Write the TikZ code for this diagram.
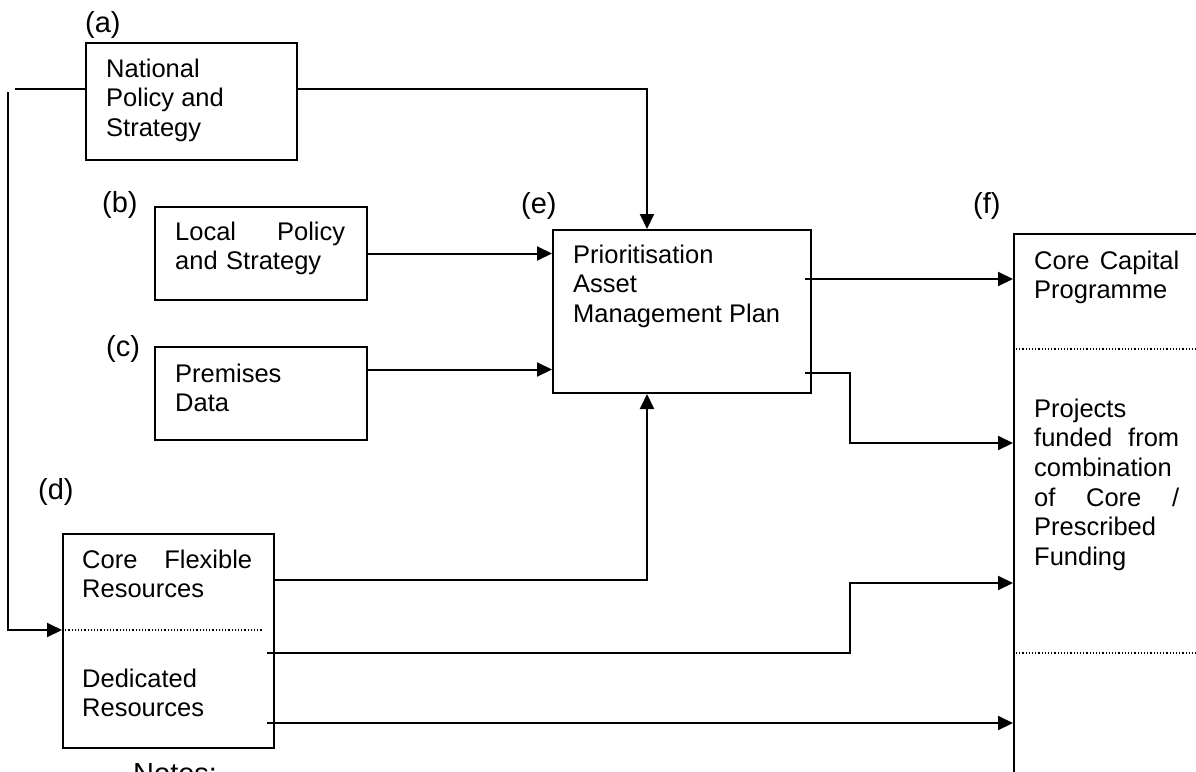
\documentclass[tikz,border=0pt]{standalone}
\usepackage{fontspec}
\setmainfont{Liberation Sans}
\usetikzlibrary{arrows.meta,calc}
\newcommand\myfs{\fontsize{25.5}{29.7}\selectfont}
\newcommand\mylfs{\fontsize{29}{34}\selectfont}
\begin{document}
\begin{tikzpicture}[x=1pt,y=-1pt,
  box/.style={draw, line width=2pt, inner sep=0, anchor=north west},
  txt/.style={anchor=north west, inner sep=0, align=left, font=\myfs},
  lbl/.style={anchor=base west, inner sep=0, font=\mylfs},
  conn/.style={line width=2pt},
  arr/.style={conn, -{Triangle[length=15pt,width=14pt]}},
  sep/.style={dotted, line width=1.2pt}]
\useasboundingbox (0,0) rectangle (1196,771);
\clip (0,0) rectangle (1196,771);
% boxes
\node[box, minimum width=211pt, minimum height=117pt] (a) at (85,42) {};
\node[box, minimum width=212pt, minimum height=93pt] (b) at (154,206) {};
\node[box, minimum width=212pt, minimum height=93pt] (c) at (154,346) {};
\node[box, minimum width=258pt, minimum height=163pt] (e) at (552,229) {};
\node[box, minimum width=211pt, minimum height=214pt] (d) at (62,533) {};
\node[box, minimum width=300pt, minimum height=600pt] (f) at (1013,233) {};
% texts
\node[txt] (ta) at (106,56.2) {\strut National\\Policy and\\Strategy};
\node[txt, text width=170pt] (tb) at (175,219.2) {\strut Local\hfill Policy\\and Strategy};
\node[txt] (tc) at (175,361.2) {\strut Premises\\Data};
\node[txt] (te) at (573,242.2) {\strut Prioritisation\\Asset\\Management Plan};
\node[txt, text width=145pt] (tf1) at (1034,248.2) {\strut Core\hfill Capital\\Programme};
\node[txt, text width=145pt] (tf2) at (1034,396.2) {\strut Projects\\funded\hfill from\\combination\\of\hfill Core\hfill /\\Prescribed\\Funding};
\node[txt, text width=170pt] (td1) at (82,547.2) {\strut Core\hfill Flexible\\Resources};
\node[txt] (td2) at (82,666.2) {\strut Dedicated\\Resources};
% labels
\node[lbl] (la) at (85,32) {(a)};
\node[lbl] (lb) at (102,212) {(b)};
\node[lbl] (lc) at (106,356) {(c)};
\node[lbl] (ld) at (38,499) {(d)};
\node[lbl] (le) at (521,213) {(e)};
\node[lbl] (lf) at (973,213) {(f)};
\node[anchor=base west, inner sep=0, font=\mylfs] (notes) at (133,783) {Notes:};
% separators
\draw[sep] (d.west |- 0,630) -- (263,630);
\draw[sep] ($(f.north west)+(3,116)$) -- ($(f.north west)+(200,116)$);
\draw[sep] ($(f.north west)+(3,420)$) -- ($(f.north west)+(200,420)$);
% coordinates for free ends
\coordinate (lstart) at (15,89);
\coordinate (vstart) at (8,92);
\coordinate (vbend) at (8,630);
\coordinate (cc) at ($(c.north east)+(0,23.5)$);
% connectors
\draw[conn] (a.west |- lstart) -- (lstart);
\draw[arr] (vstart) -- (vbend) -- (d.west |- vbend);
\draw[arr] (a.east |- lstart) -| ($(e.north west)+(95,0)$);
\draw[arr] (b.east) -- (e.west |- b.east);
\draw[arr] (cc) -- (e.west |- cc);
\draw[arr] ($(e.north east)+(-7,50)$) -- ($(f.north west)+(0,46)$);
\draw[arr] ($(e.north east)+(-7,144)$) -| ($(f.north west)+(-163,210)$) -- ($(f.north west)+(0,210)$);
\draw[arr] ($(d.north east)+(0,47)$) -| ($(e.south west)+(95,0)$);
\draw[arr] ($(d.north east)+(-8,120)$) -| ($(f.north west)+(-163,350)$) -- ($(f.north west)+(0,350)$);
\draw[arr] ($(d.north east)+(-8,190)$) -- ($(f.north west)+(0,490)$);
\end{tikzpicture}
\end{document}
